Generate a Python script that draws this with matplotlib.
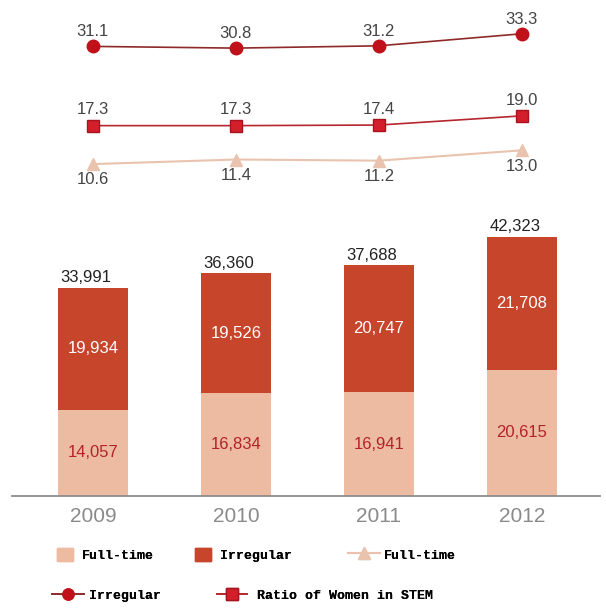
import matplotlib
matplotlib.use("Agg")
import matplotlib.pyplot as plt
from matplotlib.lines import Line2D
from matplotlib.patches import Patch

# Data
years = ["2009", "2010", "2011", "2012"]
full_time = [14057, 16834, 16941, 20615]
irregular = [19934, 19526, 20747, 21708]
totals = [33991, 36360, 37688, 42323]

ratio_irregular = [31.1, 30.8, 31.2, 33.3]
ratio_women = [17.3, 17.3, 17.4, 19.0]
ratio_full_time = [10.6, 11.4, 11.2, 13.0]

# Colours
c_full = "#EDBBA2"
c_irr = "#C6452B"
c_circle = "#C0111B"
c_square = "#D21F2B"
c_tri = "#E9C3AE"

num_font = ["Liberation Sans", "DejaVu Sans"]

fig = plt.figure(figsize=(6.06, 6.13), dpi=100)
x = list(range(len(years)))
xlim = (-0.566, 3.545)

# Line chart area (top)
ax_l = fig.add_axes([0.0198, 0.7145, 0.970, 0.2529])
ax_l.set_xlim(*xlim)
ax_l.set_ylim(8.7, 35.7)
ax_l.axis("off")

ax_l.plot(x, ratio_irregular, color="#8E2A2A", lw=1.2, marker="o", ms=9,
          markerfacecolor=c_circle, markeredgecolor=c_circle)
ax_l.plot(x, ratio_women, color="#B5262E", lw=1.2, marker="s", ms=9,
          markerfacecolor=c_square, markeredgecolor="#A8141E")
ax_l.plot(x, ratio_full_time, color=c_tri, lw=1.5, marker="^", ms=9,
          markerfacecolor=c_tri, markeredgecolor=c_tri)

for i in x:
    ax_l.annotate(f"{ratio_irregular[i]:.1f}", (i, ratio_irregular[i]), xytext=(0, 5),
                  textcoords="offset points", ha="center", va="bottom",
                  fontsize=12, color="#444444", family=num_font)
    ax_l.annotate(f"{ratio_women[i]:.1f}", (i, ratio_women[i]), xytext=(0, 6),
                  textcoords="offset points", ha="center", va="bottom",
                  fontsize=12, color="#444444", family=num_font)
    ax_l.annotate(f"{ratio_full_time[i]:.1f}", (i, ratio_full_time[i]), xytext=(0, -6),
                  textcoords="offset points", ha="center", va="top",
                  fontsize=12, color="#444444", family=num_font)

# Stacked bar area (bottom)
ax_b = fig.add_axes([0.0198, 0.1909, 0.970, 0.4584])
ax_b.set_xlim(*xlim)
ax_b.set_ylim(0, 45918)
for s in ["top", "right", "left"]:
    ax_b.spines[s].set_visible(False)
ax_b.spines["bottom"].set_color("#8c8c8c")
ax_b.spines["bottom"].set_linewidth(1.3)
ax_b.set_yticks([])
ax_b.set_xticks(x)
ax_b.set_xticklabels(years, fontsize=15, color="#8a8a8a", family=num_font)
ax_b.tick_params(axis="x", length=0, pad=8)

w = 0.49
ax_b.bar(x, full_time, width=w, color=c_full)
ax_b.bar(x, irregular, width=w, bottom=full_time, color=c_irr)

for i in x:
    ax_b.text(i, full_time[i] / 2, f"{full_time[i]:,}", ha="center", va="center",
              fontsize=12, color="#B3222A", family=num_font)
    ax_b.text(i, full_time[i] + irregular[i] / 2, f"{irregular[i]:,}", ha="center",
              va="center", fontsize=12, color="white", family=num_font)
    ax_b.annotate(f"{totals[i]:,}", (i - 0.05, totals[i]), xytext=(0, 2),
                  textcoords="offset points", ha="center", va="bottom",
                  fontsize=12, color="#222222", family=num_font)

# Legend: one small legend per entry so each sits where it does in the picture
leg_font = {"family": "Liberation Mono", "weight": "bold", "size": 9.5}
# (handle, label, x, y, handlelength, handletextpad)
entries = [
    (Patch(color=c_full), "Full-time", 0.094, 0.095, 1.2, 0.7),
    (Patch(color=c_irr), "Irregular", 0.322, 0.095, 1.2, 0.7),
    (Line2D([], [], color=c_tri, lw=1.5, marker="^", ms=8, markerfacecolor=c_tri,
            markeredgecolor=c_tri), "Full-time", 0.574, 0.095, 2.4, 0.3),
    (Line2D([], [], color="#8E2A2A", lw=1.2, marker="o", ms=8, markerfacecolor=c_circle,
            markeredgecolor=c_circle), "Irregular", 0.086, 0.029, 2.4, 0.4),
    (Line2D([], [], color="#B5262E", lw=1.2, marker="s", ms=8, markerfacecolor=c_square,
            markeredgecolor="#A8141E"), "Ratio of Women in STEM", 0.358, 0.029, 2.3, 0.75),
]
for h, lab, lx, ly, hl, pad in entries:
    leg = fig.legend([h], [lab], loc="center left", bbox_to_anchor=(lx, ly),
                     frameon=False, prop=leg_font, handlelength=hl, handleheight=1.15,
                     handletextpad=pad, borderpad=0, borderaxespad=0)
    fig.add_artist(leg)

fig.savefig("out.png", dpi=100)
